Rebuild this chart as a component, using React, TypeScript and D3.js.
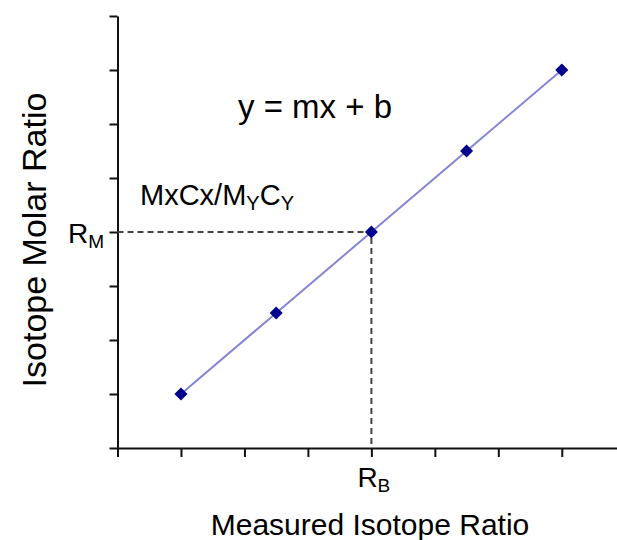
import React, { useEffect, useRef } from 'react';
import { select, scaleLinear, axisBottom, axisLeft, line, range, symbol, symbolSquare } from 'd3';

// calibration points, in tick units
const measured = [1, 2.5, 4, 5.5, 7];
const molar = [1, 2.5, 4, 5.5, 7];
const xTicks = range(0, 8);
const yTicks = range(0, 9);
const blendX = 4;
const blendY = 4;

const width = 617;
const height = 540;
const margin = { top: 16, right: 0, bottom: 92, left: 117.5 };

export default function App() {
  const ref = useRef<SVGSVGElement | null>(null);

  useEffect(() => {
    const svg = select(ref.current);
    svg.selectAll('*').remove();

    const x = scaleLinear().domain([0, 7.87]).range([margin.left, width - margin.right]);
    const y = scaleLinear().domain([0, 8]).range([height - margin.bottom, margin.top]);

    svg.append('g')
      .attr('transform', `translate(0,${y(0)})`)
      .call(axisBottom(x).tickValues(xTicks).tickSize(9).tickSizeOuter(0).tickFormat(() => ''))
      .call(g => g.selectAll('line, path').attr('stroke', '#111').attr('stroke-width', 2));

    svg.append('g')
      .attr('transform', `translate(${x(0)},0)`)
      .call(axisLeft(y).tickValues(yTicks).tickSize(8).tickSizeOuter(0).tickFormat(() => ''))
      .call(g => g.selectAll('line, path').attr('stroke', '#111').attr('stroke-width', 2));

    // dashed read-off lines
    svg.append('path')
      .attr('fill', 'none')
      .attr('stroke', '#444')
      .attr('stroke-width', 2)
      .attr('stroke-dasharray', '6,4')
      .attr('d', `M${x(0)},${y(blendY)}H${x(blendX)}V${y(0)}`);

    const pts = measured.map((d, i) => [d, molar[i]] as [number, number]);

    svg.append('path')
      .attr('fill', 'none')
      .attr('stroke', '#8585d6')
      .attr('stroke-width', 2)
      .attr('d', line<[number, number]>().x(d => x(d[0])).y(d => y(d[1]))(pts));

    svg.append('g')
      .selectAll('path')
      .data(pts)
      .join('path')
        .attr('transform', d => `translate(${x(d[0])},${y(d[1])}) rotate(45)`)
        .attr('fill', '#00008c')
        .attr('d', symbol().type(symbolSquare).size(85)());

    const font = 'Helvetica, Arial, "Liberation Sans", sans-serif';

    svg.append('text')
      .attr('x', 238)
      .attr('y', 118)
      .attr('font-family', font)
      .attr('font-size', 33)
      .text('y = mx + b');

    const mc = svg.append('text')
      .attr('x', 140)
      .attr('y', 205)
      .attr('font-family', font)
      .attr('font-size', 29);
    mc.append('tspan').text('MxCx/M');
    mc.append('tspan').attr('font-size', 20).attr('dy', 5).text('Y');
    mc.append('tspan').attr('dy', -5).text('C');
    mc.append('tspan').attr('font-size', 20).attr('dy', 5).text('Y');

    const rm = svg.append('text')
      .attr('x', 104)
      .attr('y', y(blendY) + 11)
      .attr('text-anchor', 'end')
      .attr('font-family', font)
      .attr('font-size', 28);
    rm.append('tspan').text('R');
    rm.append('tspan').attr('font-size', 19).attr('dy', 5).text('M');

    const rb = svg.append('text')
      .attr('x', x(blendX) - 14)
      .attr('y', 487)
      .attr('font-family', font)
      .attr('font-size', 28);
    rb.append('tspan').text('R');
    rb.append('tspan').attr('font-size', 19).attr('dy', 5).text('B');

    svg.append('text')
      .attr('x', 370)
      .attr('y', 535)
      .attr('text-anchor', 'middle')
      .attr('font-family', font)
      .attr('font-size', 30)
      .text('Measured Isotope Ratio');

    svg.append('text')
      .attr('transform', `translate(46,240) rotate(-90)`)
      .attr('text-anchor', 'middle')
      .attr('font-family', font)
      .attr('font-size', 34)
      .text('Isotope Molar Ratio');
  }, []);

  return (
    <svg
      ref={ref}
      width={width}
      height={height}
      style={{ position: 'absolute', left: 0, top: 0, background: '#fff' }}
    />
  );
}
